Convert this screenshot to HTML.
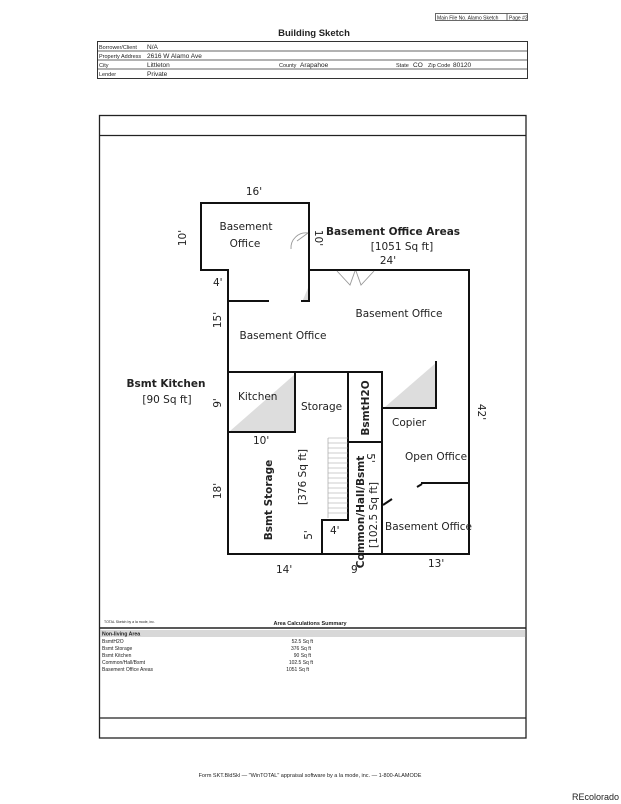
<!DOCTYPE html>
<html><head><meta charset="utf-8"><style>
html,body{margin:0;padding:0;background:#fff;}
svg{display:block;}
text{font-family:"DejaVu Sans","Liberation Sans",sans-serif;fill:#222;}
.s{font-family:"Liberation Sans",sans-serif;}
</style></head><body>
<svg width="621" height="804" viewBox="0 0 621 804" xmlns="http://www.w3.org/2000/svg">
<!-- header -->
<rect x="435.5" y="13.5" width="92" height="7" fill="none" stroke="#444" stroke-width="0.8"/>
<line x1="507" y1="13.5" x2="507" y2="20.5" stroke="#444" stroke-width="0.8"/>
<text class="s" x="437" y="19.3" font-size="5" fill="#555">Main File No. Alamo Sketch</text>
<text class="s" x="509" y="19.3" font-size="5" fill="#555">Page #2</text>
<text class="s" x="314" y="36" font-size="9.5" font-weight="bold" text-anchor="middle">Building Sketch</text>
<rect x="97.5" y="41.5" width="430" height="37" fill="none" stroke="#333" stroke-width="1"/>
<line x1="97.5" y1="51" x2="527.5" y2="51" stroke="#333" stroke-width="0.7"/>
<line x1="97.5" y1="60" x2="527.5" y2="60" stroke="#333" stroke-width="0.7"/>
<line x1="97.5" y1="69" x2="527.5" y2="69" stroke="#333" stroke-width="0.7"/>
<text class="s" x="99" y="49" font-size="5.5" fill="#888">Borrower/Client</text>
<text class="s" x="99" y="58" font-size="5.5" fill="#888">Property Address</text>
<text class="s" x="99" y="67" font-size="5.5" fill="#888">City</text>
<text class="s" x="99" y="76" font-size="5.5" fill="#888">Lender</text>
<text class="s" x="279" y="67" font-size="5.5" fill="#888">County</text>
<text class="s" x="396" y="67" font-size="5.5" fill="#888">State</text>
<text class="s" x="428" y="67" font-size="5.5" fill="#888">Zip Code</text>
<text class="s" x="147" y="49" font-size="6.5">N/A</text>
<text class="s" x="147" y="58" font-size="6.5">2616 W Alamo Ave</text>
<text class="s" x="147" y="67" font-size="6.5">Littleton</text>
<text class="s" x="147" y="76" font-size="6.5">Private</text>
<text class="s" x="300" y="67" font-size="6.5">Arapahoe</text>
<text class="s" x="413" y="67" font-size="6.5">CO</text>
<text class="s" x="453" y="67" font-size="6.5">80120</text>

<!-- main box -->
<rect x="99.5" y="115.5" width="426.5" height="622.5" fill="none" stroke="#222" stroke-width="1.3"/>
<line x1="99.5" y1="135.5" x2="526" y2="135.5" stroke="#222" stroke-width="1.3"/>
<line x1="99.5" y1="628" x2="526" y2="628" stroke="#222" stroke-width="1.5"/>
<rect x="100.5" y="630" width="425" height="7" fill="#d8d8d8"/>
<line x1="99.5" y1="718" x2="526" y2="718" stroke="#222" stroke-width="1.3"/>

<!-- summary -->
<text class="s" x="104" y="623" font-size="3.5" fill="#666">TOTAL Sketch by a la mode, inc.</text>
<text class="s" x="310" y="625" font-size="5.5" font-weight="bold" text-anchor="middle">Area Calculations Summary</text>
<text class="s" x="102" y="635.5" font-size="5.2" font-weight="bold">Non-living Area</text>
<text class="s" x="102" y="643" font-size="5">BsmtH2O</text>
<text class="s" x="102" y="650" font-size="5">Bsmt Storage</text>
<text class="s" x="102" y="657" font-size="5">Bsmt Kitchen</text>
<text class="s" x="102" y="664" font-size="5">Common/Hall/Bsmt</text>
<text class="s" x="102" y="671" font-size="5">Basement Office Areas</text>
<text class="s" x="313" y="643" font-size="5" text-anchor="end">52.5 Sq ft</text>
<text class="s" x="311" y="650" font-size="5" text-anchor="end">376 Sq ft</text>
<text class="s" x="311" y="657" font-size="5" text-anchor="end">90 Sq ft</text>
<text class="s" x="313" y="664" font-size="5" text-anchor="end">102.5 Sq ft</text>
<text class="s" x="309" y="671" font-size="5" text-anchor="end">1051 Sq ft</text>

<!-- floor plan -->
<g fill="#ddd" stroke="none">
<polygon points="230,431 294,431 294,375"/>
<polygon points="385,407 437,407 437,362"/>
<polygon points="302,302 308,302 308,288"/>
</g>
<g stroke="#111" stroke-width="2" fill="none" stroke-linecap="square">
<polyline points="309,301 309,203 201,203 201,270 228,270 228,554 469,554 469,270 309,270"/>
<line x1="228" y1="301" x2="268" y2="301"/>
<line x1="302" y1="301" x2="309" y2="301"/>
<line x1="228" y1="372" x2="348" y2="372"/>
<line x1="295" y1="372" x2="295" y2="432"/>
<line x1="228" y1="432" x2="295" y2="432"/>
<polyline points="348,518 348,372 382,372 382,554"/>
<line x1="348" y1="442" x2="382" y2="442"/>
<polyline points="322,554 322,520 348,520"/>
<polyline points="382,408 436,408 436,362"/>
<polyline points="422,483 469,483"/>
</g>
<line x1="417" y1="487" x2="422" y2="484" stroke="#111" stroke-width="2"/>
<line x1="383" y1="505" x2="392" y2="499" stroke="#111" stroke-width="2"/>
<!-- stairs -->
<g stroke="#999" stroke-width="0.6">
<line x1="328" y1="438" x2="328" y2="518"/>
<line x1="328" y1="438" x2="348" y2="438"/><line x1="328" y1="443" x2="348" y2="443"/><line x1="328" y1="448" x2="348" y2="448"/><line x1="328" y1="453" x2="348" y2="453"/><line x1="328" y1="458" x2="348" y2="458"/><line x1="328" y1="463" x2="348" y2="463"/><line x1="328" y1="468" x2="348" y2="468"/><line x1="328" y1="473" x2="348" y2="473"/><line x1="328" y1="478" x2="348" y2="478"/><line x1="328" y1="483" x2="348" y2="483"/><line x1="328" y1="488" x2="348" y2="488"/><line x1="328" y1="493" x2="348" y2="493"/><line x1="328" y1="498" x2="348" y2="498"/><line x1="328" y1="503" x2="348" y2="503"/><line x1="328" y1="508" x2="348" y2="508"/><line x1="328" y1="513" x2="348" y2="513"/>
</g>
<!-- doors -->
<g stroke="#999" stroke-width="0.9" fill="none">
<path d="M308,233 A15,15 0 0 0 291,249"/>
<line x1="308" y1="233" x2="297" y2="241"/>
<polyline points="337,271 350,285 355,271"/>
<polyline points="356,271 361,285 374,271"/>
</g>

<!-- labels -->
<g font-size="10.5">
<text x="254" y="195" text-anchor="middle">16'</text>
<text x="246" y="230" text-anchor="middle">Basement</text>
<text x="245" y="247" text-anchor="middle">Office</text>
<text x="393" y="235" text-anchor="middle" font-weight="bold">Basement Office Areas</text>
<text x="402" y="250" text-anchor="middle">[1051 Sq ft]</text>
<text x="388" y="264" text-anchor="middle">24'</text>
<text x="213" y="286">4'</text>
<text x="399" y="317" text-anchor="middle">Basement Office</text>
<text x="283" y="339" text-anchor="middle">Basement Office</text>
<text x="166" y="387" text-anchor="middle" font-weight="bold">Bsmt Kitchen</text>
<text x="167" y="403" text-anchor="middle">[90 Sq ft]</text>
<text x="238" y="400">Kitchen</text>
<text x="301" y="410">Storage</text>
<text x="392" y="426">Copier</text>
<text x="405" y="460">Open Office</text>
<text x="385" y="530">Basement Office</text>
<text x="253" y="444">10'</text>
<text x="330" y="534">4'</text>
<text x="276" y="573">14'</text>
<text x="351" y="573">9'</text>
<text x="428" y="567">13'</text>
<text transform="translate(186,238) rotate(-90)" text-anchor="middle">10'</text>
<text transform="translate(315,238) rotate(90)" text-anchor="middle">10'</text>
<text transform="translate(221,320) rotate(-90)" text-anchor="middle">15'</text>
<text transform="translate(221,403) rotate(-90)" text-anchor="middle">9'</text>
<text transform="translate(221,491) rotate(-90)" text-anchor="middle">18'</text>
<text transform="translate(478,412) rotate(90)" text-anchor="middle">42'</text>
<text transform="translate(312,535) rotate(-90)" text-anchor="middle">5'</text>
<text transform="translate(367,458) rotate(90)" text-anchor="middle">5'</text>
<text transform="translate(272,500) rotate(-90)" text-anchor="middle" font-weight="bold">Bsmt Storage</text>
<text transform="translate(306,477) rotate(-90)" text-anchor="middle">[376 Sq ft]</text>
<text transform="translate(369,408) rotate(-90)" text-anchor="middle" font-weight="bold">BsmtH2O</text>
<text transform="translate(364,512) rotate(-90)" text-anchor="middle" font-weight="bold">Common/Hall/Bsmt</text>
<text transform="translate(377,515) rotate(-90)" text-anchor="middle">[102.5 Sq ft]</text>
</g>

<!-- footer -->
<text class="s" x="310" y="777" font-size="5.5" fill="#555" text-anchor="middle">Form SKT.BldSkl — "WinTOTAL" appraisal software by a la mode, inc. — 1-800-ALAMODE</text>
<text class="s" x="619" y="800" font-size="9" fill="#999" text-anchor="end">REcolorado</text>
</svg>
</body></html>
